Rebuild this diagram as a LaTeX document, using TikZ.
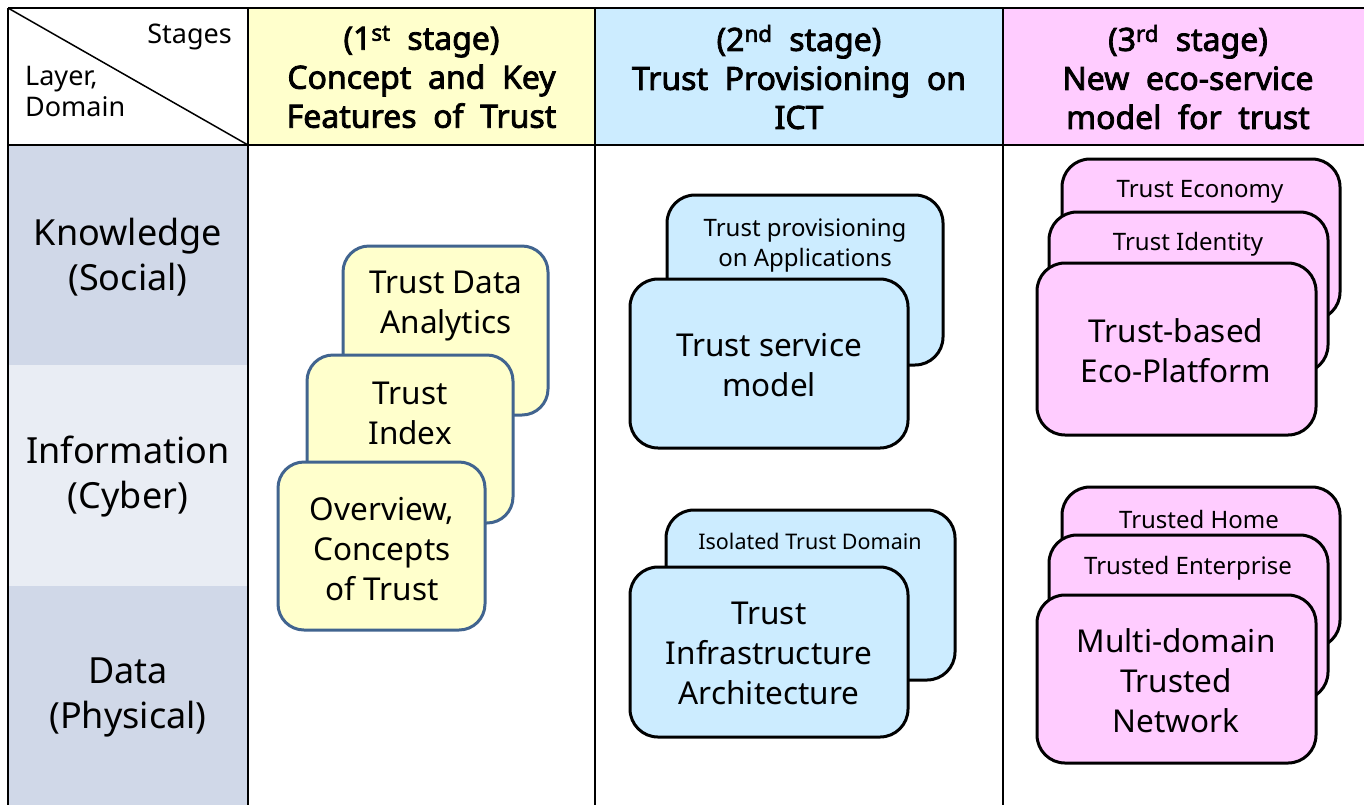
\documentclass[tikz,border=0pt]{standalone}
\usepackage{fontspec}
\setmainfont{Noto Sans}
\newfontfamily\headfont{Noto Sans}[FakeBold=2.5, WordSpace=2]
\definecolor{yfill}{HTML}{FFFFCC}
\definecolor{yborder}{HTML}{41648F}
\definecolor{bfill}{HTML}{CCECFF}
\definecolor{pfill}{HTML}{FFCCFF}
\definecolor{rowdark}{HTML}{D0D8E8}
\definecolor{rowlight}{HTML}{E9EDF4}
\begin{document}
\begin{tikzpicture}[x=1pt,y=-1pt,
  grid/.style={line width=2pt, draw=black},
  ybox/.style={draw=yborder, fill=yfill, line width=3pt, rounded corners=26pt},
  bbox/.style={draw=black, fill=bfill, line width=3pt, rounded corners=28pt},
  pbox/.style={draw=black, fill=pfill, line width=3pt, rounded corners=28pt},
  big/.style={font=\fontsize{31.5}{40}\selectfont, align=center, inner sep=0pt},
  small/.style={font=\fontsize{24}{30}\selectfont, align=center, inner sep=0pt},
  head/.style={font=\headfont\fontsize{32}{39}\selectfont, align=center, inner sep=0pt},
  side/.style={font=\fontsize{36}{45}\selectfont, align=center, inner sep=0pt},
  corner/.style={font=\fontsize{27}{31}\selectfont, inner sep=0pt}]
\useasboundingbox (0,0) rectangle (1364,804);
\clip (0,0) rectangle (1364,804);
\fill[white] (0,0) rectangle (1364,804);
% header fills
\fill[yfill] (248,8) rectangle (595,145);
\fill[bfill] (595,8) rectangle (1003,145);
\fill[pfill] (1003,8) rectangle (1380,145);
% side fills
\fill[rowdark] (8,145) rectangle (248,365);
\fill[rowlight] (8,365) rectangle (248,586);
\fill[rowdark] (8,586) rectangle (248,820);
% grid
\draw[grid] (8,8) -- (1380,8);
\draw[grid] (8,145) -- (1380,145);
\draw[grid] (8,8) -- (8,820);
\draw[grid] (248,8) -- (248,820);
\draw[grid] (595,8) -- (595,820);
\draw[grid] (1003,8) -- (1003,820);
\draw[line width=1.5pt] (8,8) -- (248,145);
% corner texts
\node[corner, anchor=east] (stages) at (232,37) {Stages};
\node[corner, anchor=west, align=left] (layer) at (25,91) {Layer,\\Domain};
% headers
\node[head] (h1) at (421.5,77) {(1\textsuperscript{st} stage)\\Concept and Key\\Features of Trust};
\node[head] (h2) at (799,77) {(2\textsuperscript{nd} stage)\\Trust Provisioning on\\ICT};
\node[head] (h3) at (1188,77) {(3\textsuperscript{rd} stage)\\New eco-service\\model for trust};
% side labels
\node[side] (s1) at (128,257) {Knowledge\\(Social)};
\node[side] (s2) at (128,477) {Information\\(Cyber)};
\node[side] (s3) at (128,697) {Data\\(Physical)};
% stage 1
\draw[ybox] (343,246) rectangle (548,415);
\node[big] (t1a) at (446,306) {Trust Data\\Analytics};
\draw[ybox] (307,355) rectangle (513,523);
\node[big] (t1b) at (410,413) {Trust\\Index};
\draw[ybox] (278,462) rectangle (485,630);
\node[big] (t1c) at (382,549) {Overview,\\Concepts\\of Trust};
% stage 2
\draw[bbox] (667,195) rectangle (943,365);
\node[small] (t2a) at (805,246) {Trust provisioning\\on Applications};
\draw[bbox] (630,279) rectangle (908,448);
\node[big] (t2b) at (769,365) {Trust service\\model};
\draw[bbox] (666,510) rectangle (955,680);
\node[small, font=\fontsize{21.5}{26}\selectfont] (t2c) at (810,541) {Isolated Trust Domain};
\draw[bbox] (630,567) rectangle (908,737);
\node[big] (t2d) at (769,653) {Trust\\Infrastructure\\Architecture};
% stage 3
\draw[pbox] (1062,159) rectangle (1340,320);
\node[small] (t3a) at (1200,192) {Trust Economy};
\draw[pbox] (1049,212) rectangle (1328,373);
\node[small] (t3b) at (1188,244) {Trust Identity};
\draw[pbox] (1037,263) rectangle (1316,435);
\node[big] (t3c) at (1176,351) {Trust-based\\Eco-Platform};
\draw[pbox] (1062,487) rectangle (1340,648);
\node[small] (t3d) at (1199,519) {Trusted Home};
\draw[pbox] (1049,535) rectangle (1328,700);
\node[small] (t3e) at (1188,568) {Trusted Enterprise};
\draw[pbox] (1037,595) rectangle (1316,763);
\node[big] (t3f) at (1176,681) {Multi-domain\\Trusted\\Network};
\end{tikzpicture}
\end{document}
